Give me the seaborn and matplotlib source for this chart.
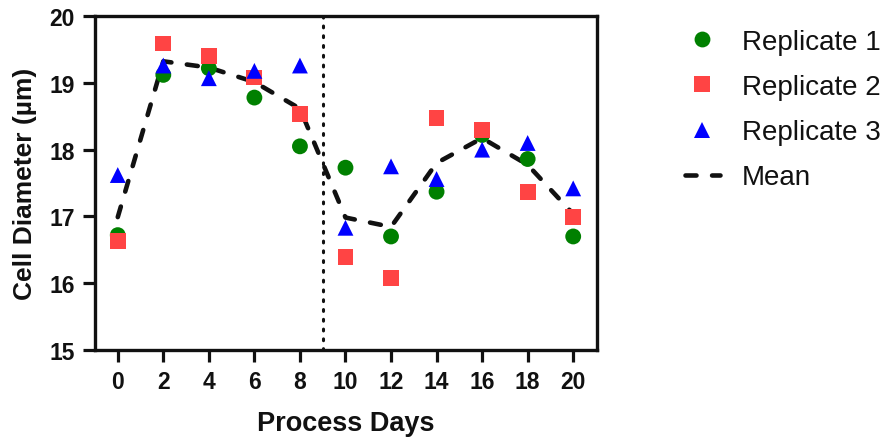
import numpy as np
import pandas as pd
import matplotlib
matplotlib.use("Agg")
import matplotlib.pyplot as plt
import seaborn as sns

days = [0, 2, 4, 6, 8, 10, 12, 14, 16, 18, 20]
rep1 = [16.72, 19.12, 19.22, 18.78, 18.05, 17.73, 16.70, 17.37, 18.22, 17.86, 16.70]
rep2 = [16.63, 19.59, 19.40, 19.08, 18.53, 16.39, 16.08, 18.47, 18.30, 17.36, 16.99]
rep3 = [17.62, 19.26, 19.07, 19.18, 19.26, 16.83, 17.75, 17.56, 18.00, 18.10, 17.42]
series_names = ["Replicate 1", "Replicate 2", "Replicate 3"]
y_ticks = [15, 16, 17, 18, 19, 20]
x_ticks = [0, 2, 4, 6, 8, 10, 12, 14, 16, 18, 20]
split_day = 9

sns.set_theme(style="ticks")
plt.rcParams["font.family"] = ["Liberation Sans", "DejaVu Sans"]
plt.rcParams["text.color"] = "#111111"
plt.rcParams["axes.labelcolor"] = "#111111"
plt.rcParams["xtick.labelcolor"] = "#111111"
plt.rcParams["ytick.labelcolor"] = "#111111"

df = pd.DataFrame({
    "Day": days * 3,
    "Diameter": rep1 + rep2 + rep3,
    "Series": [series_names[0]] * len(days) + [series_names[1]] * len(days) + [series_names[2]] * len(days),
})
mean_df = df.groupby("Day", as_index=False)["Diameter"].mean()

fig = plt.figure(figsize=(8.82, 4.39), dpi=100)
ax = fig.add_axes([0.1077, 0.2005, 0.5693, 0.7605])

palette = {"Replicate 1": "#008000", "Replicate 2": "#FF4444", "Replicate 3": "#0000FF"}
markers = {"Replicate 1": "o", "Replicate 2": "s", "Replicate 3": "^"}

ax.axvline(split_day, color="#111111", linestyle=(0, (0.6, 2.6)), lw=2.2,
           dash_capstyle="round", zorder=1)

sns.lineplot(data=mean_df, x="Day", y="Diameter", ax=ax, color="#111111",
             lw=3.3, linestyle=(0, (2.4, 3.4)), label="Mean", zorder=2,
             dash_capstyle="round")
sns.scatterplot(data=df, x="Day", y="Diameter", hue="Series", style="Series",
                palette=palette, markers=markers, s=130, linewidth=0, ax=ax,
                zorder=3)

ax.set_xlim(-1, 21.05)
ax.set_ylim(15, 20)
ax.set_xticks(x_ticks)
ax.set_yticks(y_ticks)
ax.set_xticklabels([str(t) for t in x_ticks], fontsize=16.5, fontweight="bold")
ax.set_yticklabels([str(t) for t in y_ticks], fontsize=16.5, fontweight="bold")
ax.set_xlabel("Process Days", fontsize=19.5, fontweight="bold", labelpad=12)
ax.set_ylabel("Cell Diameter (µm)", fontsize=19, fontweight="bold", labelpad=9)

for s in ax.spines.values():
    s.set_linewidth(2.4)
    s.set_color("#111111")
ax.tick_params(axis="both", direction="out", length=8.6, width=2.3, color="#111111",
               pad=6)

handles, labels = ax.get_legend_handles_labels()
order = [labels.index(n) for n in series_names] + [labels.index("Mean")]
ax.legend([handles[i] for i in order], [labels[i] for i in order],
          loc="upper left", bbox_to_anchor=(0.764, 0.957),
          bbox_transform=fig.transFigure, frameon=False, fontsize=20,
          borderaxespad=0, handlelength=1.26, handletextpad=0.8,
          labelspacing=0.69, markerscale=1.0)

fig.savefig("out.png", dpi=100)
